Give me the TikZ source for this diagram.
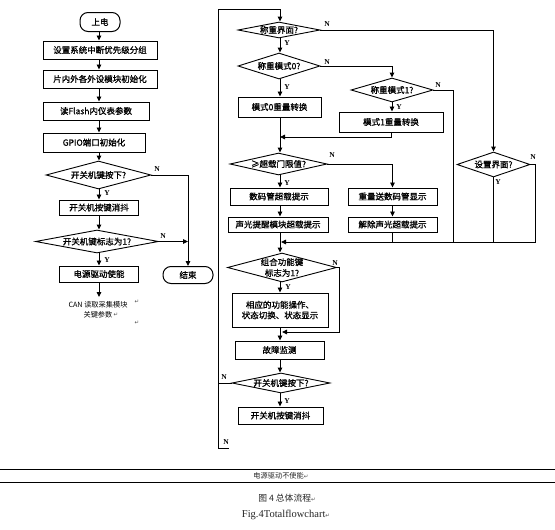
\documentclass[tikz,border=0pt]{standalone}
\usepackage{fontspec}
\setmainfont{Liberation Serif}
\newfontfamily\cjk{Noto Sans CJK SC}
\newfontfamily\cjkb{Noto Sans CJK SC}[FakeBold=1.1]
\newfontfamily\symf{DejaVu Sans}
\usetikzlibrary{shapes.geometric,arrows.meta,shadows}
\newcommand{\zw}[1]{\makebox[0pt]{#1}}
\newcommand{\ret}{{\symf\fontsize{5.5}{6}\selectfont\textcolor{black!70}{↵}}}
\begin{document}
\begin{tikzpicture}[x=1pt,y=-1pt,line width=0.9pt,
  >={Triangle[length=5pt,width=4.5pt]},
  txt/.style={font=\cjkb\fontsize{8.5}{10.5}\selectfont},
  box/.style={txt,draw,rectangle,inner sep=0pt,line width=1pt,fill=white,align=center,
    drop shadow={shadow xshift=0.6pt,shadow yshift=-0.6pt,opacity=1,fill=black}},
  dia/.style={txt,draw,diamond,aspect=2,inner sep=0pt,line width=0.9pt,fill=white},
  term/.style={txt,draw,rectangle,rounded corners=8pt,inner sep=0pt,line width=1pt},
  yn/.style={font=\bfseries\fontsize{7.5}{8}\selectfont,inner sep=0pt},
  note/.style={font=\cjk\fontsize{7.2}{10}\selectfont,inner sep=0pt,align=center},
  retm/.style={inner sep=0pt}
]
\useasboundingbox (0,0) rectangle (555,530);

% ---------- left column ----------
\coordinate (colL) at (99,0);
\node[term,minimum width=40pt,minimum height=19pt] (pd) at (100,22) {上电};
\node[box,minimum width=114pt,minimum height=18pt] (b1) at (100,50) {设置系统中断优先级分组};
\node[box,minimum width=114pt,minimum height=18pt] (b2) at (100,79) {片内外各外设模块初始化};
\node[box,minimum width=106pt,minimum height=18pt] (b3) at (96,111) {读Flash内仪表参数};
\node[box,minimum width=102pt,minimum height=19pt] (b4) at (94,142.5) {GPIO端口初始化};
\node[dia,minimum width=105pt,minimum height=28pt] (d1) at (98.5,175) {\zw{开关机键按下?}};
\node[box,minimum width=79pt,minimum height=15pt] (b5) at (99,207.5) {开关机按键消抖};
\node[dia,minimum width=123pt,minimum height=23pt] (d2) at (97,241.5) {\zw{开关机键标志为1?}};
\node[box,minimum width=79pt,minimum height=16pt] (b6) at (99,274) {电源驱动使能};
\coordinate (c1) at (99,297);
\node[note] (can) at (98,310) {CAN 读取采集模块\\关键参数};
\node[retm] (r1) at (137,302) {\ret};
\node[retm] (r2) at (116,315) {\ret};
\node[retm] (r3) at (137,323) {\ret};
\node[term,minimum width=50pt,minimum height=17pt] (end) at (188,275) {结束};
\coordinate (k1) at (188,175);

\draw[->] (colL |- pd.south) -- (colL |- b1.north);
\draw[->] (colL |- b1.south) -- (colL |- b2.north);
\draw[->] (colL |- b2.south) -- (colL |- b3.north);
\draw[->] (colL |- b3.south) -- (colL |- b4.north);
\draw[->] (colL |- b4.south) -- (colL |- d1.north);
\draw[->] (colL |- d1.south) -- (colL |- b5.north);
\draw[->] (colL |- b5.south) -- (colL |- d2.north);
\draw[->] (colL |- d2.south) -- (colL |- b6.north);
\draw[->] (colL |- b6.south) -- (c1);
\draw[->] (d1.east) -- (k1) -- (end.north);
\draw[->] (d2.east) -- (d2.east -| k1);

\node[yn] (nl1) at (157,169) {N};
\node[yn] (yl1) at (107,193) {Y};
\node[yn] (nl2) at (163,236) {N};
\node[yn] (yl2) at (107,260) {Y};

% ---------- right part ----------
\coordinate (colR) at (280,0);
\coordinate (lb) at (218,448);
\coordinate (lt) at (218,9);
\coordinate (rt) at (280,9);
\node[dia,minimum width=82pt,minimum height=16pt] (d3) at (279,30) {\zw{称重界面?}};
\node[dia,minimum width=82pt,minimum height=26pt] (d4) at (279,66) {\zw{称重模式0?}};
\node[box,minimum width=83pt,minimum height=20pt] (b7) at (279.5,107) {模式0重量转换};
\node[dia,minimum width=82pt,minimum height=24pt] (d5) at (392,90) {\zw{称重模式1?}};
\node[box,minimum width=104pt,minimum height=20pt] (b8) at (391,122) {模式1重量转换};
\node[dia,minimum width=97pt,minimum height=22pt] (d6) at (278.5,164) {\zw{≥超载门限值?}};
\node[box,minimum width=98pt,minimum height=17pt] (b9) at (279,196.5) {数码管超载提示};
\node[box,minimum width=100pt,minimum height=15pt] (b10) at (278,224.5) {声光提醒模块超载提示};
\node[box,minimum width=89pt,minimum height=17pt] (b11) at (392.5,196.5) {重量送数码管显示};
\node[box,minimum width=89pt,minimum height=15pt] (b12) at (392.5,224.5) {解除声光超载提示};
\node[dia,minimum width=73pt,minimum height=25pt] (d7) at (493.5,164.5) {\zw{设置界面?}};
\node[dia,minimum width=109pt,minimum height=29pt] (d8) at (282,267.5) {\zw{\shortstack{组合功能键\\标志为1?}}};
\node[box,minimum width=96pt,minimum height=34pt] (b13) at (280,310) {相应的功能操作、\\状态切换、状态显示};
\node[box,minimum width=89pt,minimum height=18pt] (b14) at (279.5,350) {故障监测};
\node[dia,minimum width=98pt,minimum height=20pt] (d9) at (281,383) {\zw{开关机键按下?}};
\node[box,minimum width=85pt,minimum height=17pt] (b15) at (280.5,415.5) {开关机按键消抖};

\coordinate (m1) at (280,137);
\coordinate (m2) at (281,242);
\coordinate (m3) at (282,332);
\coordinate (k5) at (453,242);

\draw[->] (lb) -- (lt) -- (rt) -- (colR |- d3.north);
\draw (lb) -- ++(11,0);
\draw[->] (colR |- d3.south) -- (colR |- d4.north);
\draw[->] (colR |- d4.south) -- (colR |- b7.north);
\draw[->] (colR |- b7.south) -- (colR |- d6.north);
\draw[->] (d4.east) -| (d5.north);
\draw[->] (d5.south) -- (d5.south |- b8.north);
\draw[->] (b8.south) |- (m1);
\draw (d5.east) -| (k5);
\draw[->] (d3.east) -| (d7.north);
\draw[->] (d6.east) -| (b11.north);
\draw[->] (colR |- d6.south) -- (colR |- b9.north);
\draw[->] (colR |- b9.south) -- (colR |- b10.north);
\draw[->] (b11.south) -- (b11.south |- b12.north);
\draw[->] (d7.east) -- ++(5,0) |- (m2);
\draw (d7.south) -- (d7.south |- m2);
\draw (b12.south) -- (b12.south |- m2);
\draw[->] (colR |- b10.south) -- (colR |- d8.north);
\draw[->] (d8.east) -- ++(2,0) |- (m3);
\draw[->] (colR |- d8.south) -- (colR |- b13.north);
\draw[->] (colR |- b13.south) -- (colR |- b14.north);
\draw[->] (colR |- b14.south) -- (colR |- d9.north);
\draw (d9.west) -- (d9.west -| lb);
\draw[->] (colR |- d9.south) -- (colR |- b15.north);

\node[yn] (yr1) at (287,43) {Y};
\node[yn] (nr1) at (327,24) {N};
\node[yn] (nr2) at (327,62) {N};
\node[yn] (yr2) at (287,87) {Y};
\node[yn] (nr3) at (438,85) {N};
\node[yn] (yr3) at (399,107) {Y};
\node[yn] (nr4) at (332,155) {N};
\node[yn] (yr4) at (287,183) {Y};
\node[yn] (nr5) at (533,157) {N};
\node[yn] (yr5) at (498,182) {Y};
\node[yn] (nr6) at (335,263) {N};
\node[yn] (yr6) at (288,287) {Y};
\node[yn] (nr7) at (224,377) {N};
\node[yn] (yr7) at (287,401) {Y};
\node[yn] (nr8) at (226,442) {N};

% ---------- bottom ----------
\coordinate (hl1) at (0,469);
\coordinate (hr1) at (555,469);
\coordinate (hl2) at (0,482);
\coordinate (hr2) at (555,482);
\draw[line width=0.8pt] (hl1) -- (hr1);
\draw[line width=0.8pt] (hl2) -- (hr2);
\node[inner sep=0pt,font=\cjk\fontsize{7.2}{8}\selectfont,text=black!85] (pw) at (281,476) {电源驱动不使能\ret};
\node[inner sep=0pt,font=\cjk\fontsize{8.8}{10}\selectfont,text=black!85] (cap1) at (287,498) {图 4 总体流程\ret};
\node[inner sep=0pt,font=\fontsize{10.5}{11}\selectfont,text=black!85] (cap2) at (286,515) {Fig.4Totalflowchart\ret};
\end{tikzpicture}
\end{document}
